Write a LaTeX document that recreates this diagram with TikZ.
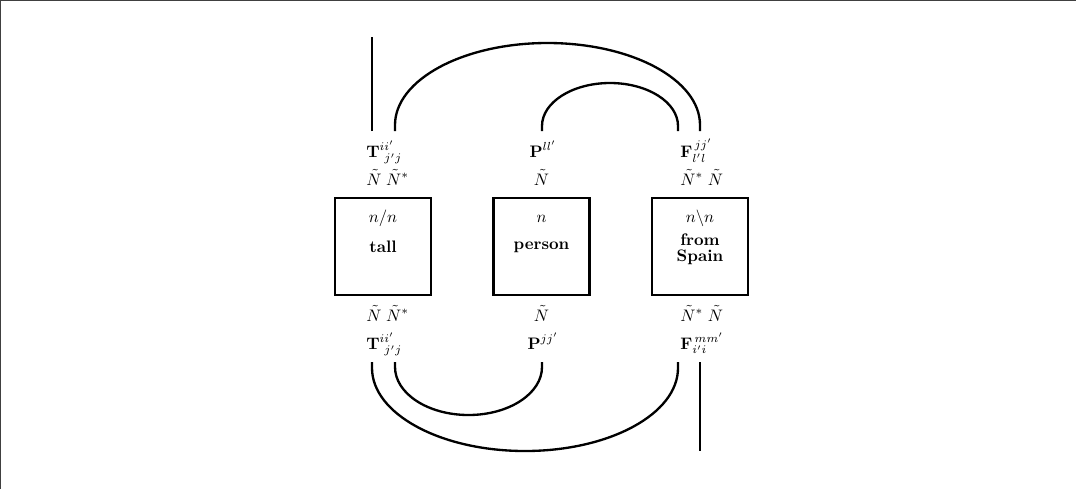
\documentclass[tikz,border=0pt]{standalone}
\usepackage{amsmath}
\begin{document}
\begin{tikzpicture}[x=0.6pt,y=-0.6pt,
  wire/.style={line width=1.4pt},
  wordbox/.style={draw,line width=1.6pt,minimum width=57.6pt,minimum height=58.2pt,inner sep=0pt},
  lbl/.style={inner sep=0pt,anchor=base west},
  clbl/.style={inner sep=0pt,anchor=base},
  frame/.style={line width=1pt,black!75}]
\useasboundingbox (0,0) rectangle (1076,489);
\coordinate (fa) at (0,489); \coordinate (fb) at (0,0); \coordinate (fc) at (1076,0);
\draw[frame] (fa) -- (fb) -- (fc);
% boxes
\node[wordbox] (tall) at (383,246.5) {};
\node[wordbox] (person) at (541.5,246.5) {};
\node[wordbox] (spain) at (700,246.5) {};
\node[clbl] (ttype) at (383,222) {$n/n$};
\node[clbl] (tword) at (383,252) {\textbf{tall}};
\node[clbl] (ptype) at (541.5,222) {$n$};
\node[clbl] (pword) at (541.5,249) {\textbf{person}};
\node[clbl] (stype) at (700,222) {$n\backslash n$};
\node[clbl] (sword1) at (700,245) {\textbf{from}};
\node[clbl] (sword2) at (700,261) {\textbf{Spain}};
% top labels
\node[lbl] (Ttop) at (366,157) {$\mathbf{T}^{ii'}_{\phantom{i}j'j}$};
\node[lbl] (TNtop) at (366,185) {$\tilde{N}\;\tilde{N}^{*}$};
\node[clbl] (Ptop) at (543,157) {$\mathbf{P}^{ll'}$};
\node[clbl] (PNtop) at (541.5,185) {$\tilde{N}$};
\node[lbl] (Ftop) at (680,157) {$\mathbf{F}_{l'l}^{\,jj'}$};
\node[lbl] (FNtop) at (680,185) {$\tilde{N}^{*}\;\tilde{N}$};
% bottom labels
\node[lbl] (TNbot) at (366,321) {$\tilde{N}\;\tilde{N}^{*}$};
\node[lbl] (Tbot) at (366,349) {$\mathbf{T}^{ii'}_{\phantom{i}j'j}$};
\node[clbl] (PNbot) at (541.5,321) {$\tilde{N}$};
\node[clbl] (Pbot) at (543,349) {$\mathbf{P}^{jj'}$};
\node[lbl] (FNbot) at (680,321) {$\tilde{N}^{*}\;\tilde{N}$};
\node[lbl] (Fbot) at (680,349) {$\mathbf{F}_{i'i}^{\,mm'}$};
% wire ends
\coordinate (Tt1) at (372,131); \coordinate (Tt2) at (395,131);
\coordinate (Pt) at (542,131);
\coordinate (Ft1) at (678,131); \coordinate (Ft2) at (700,131);
\coordinate (topend) at (372,37);
\coordinate (Tb1) at (372,362); \coordinate (Tb2) at (395,362);
\coordinate (Pb) at (542,362);
\coordinate (Fb1) at (678,362); \coordinate (Fb2) at (700,362);
\coordinate (botend) at (700,451);
% wires
\draw[wire] (Tt1) -- (topend);
\draw[wire] (Tt2) -- ++(0,-6) arc[start angle=180,end angle=0,x radius=91.5pt,y radius=49.2pt] -- (Ft2);
\draw[wire] (Pt) -- ++(0,-5) arc[start angle=180,end angle=0,x radius=40.8pt,y radius=25.8pt] -- (Ft1);
\draw[wire] (Tb2) -- ++(0,5) arc[start angle=180,end angle=360,x radius=44.1pt,y radius=28.8pt] -- (Pb);
\draw[wire] (Tb1) -- ++(0,6) arc[start angle=180,end angle=360,x radius=91.8pt,y radius=49.8pt] -- (Fb1);
\draw[wire] (Fb2) -- (botend);
\end{tikzpicture}
\end{document}
